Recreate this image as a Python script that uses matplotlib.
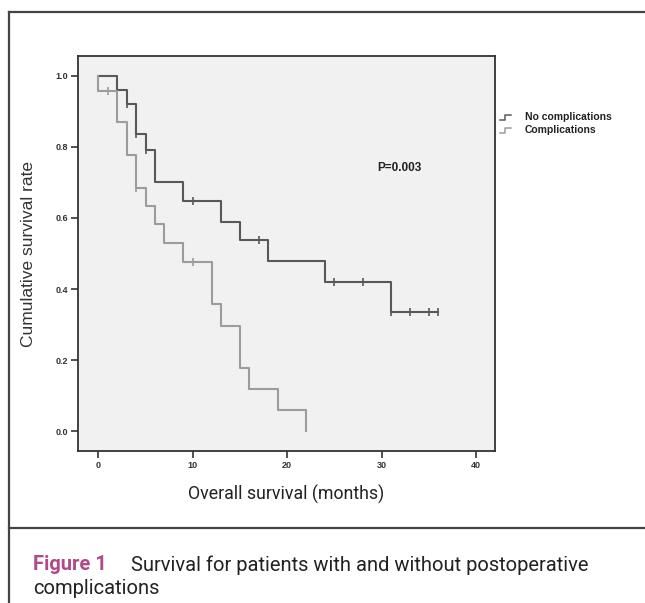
import numpy as np
import matplotlib
matplotlib.use("Agg")
from matplotlib import pyplot as plt
from matplotlib.lines import Line2D

# Kaplan-Meier steps
no_comp_times = [0, 2, 3, 4, 5, 6, 9, 13, 15, 18, 24, 31, 36]
no_comp_surv = [1.0, 0.96, 0.92, 0.836, 0.792, 0.70, 0.648, 0.59, 0.538, 0.48, 0.42, 0.336, 0.336]
no_comp_censored = [3, 4, 5, 10, 17, 25, 28, 31, 33, 35, 36]

comp_times = [0, 0, 2, 3, 4, 5, 6, 7, 9, 12, 13, 15, 16, 19, 22]
comp_surv = [1.0, 0.957, 0.869, 0.777, 0.684, 0.635, 0.582, 0.529, 0.477, 0.357, 0.297, 0.178, 0.118, 0.059, 0.0]
comp_censored = [1, 4, 10]

x_ticks = [0, 10, 20, 30, 40]
y_ticks = [0.0, 0.2, 0.4, 0.6, 0.8, 1.0]
p_value_text = "P=0.003"
legend_labels = ["No complications", "Complications"]

DARK = "#585858"
LIGHT = "#9c9c9c"
NARROW = "Roboto"


def level_at(times, surv, t):
    i = np.searchsorted(times, t, side="right") - 1
    return surv[i]


fig = plt.figure(figsize=(6.45, 6.03), dpi=100)
ax = fig.add_axes([0.1209, 0.2521, 0.6465, 0.655])
ax.set_facecolor("#f1f1f1")

for times, surv, cens, col in [(no_comp_times, no_comp_surv, no_comp_censored, DARK),
                                (comp_times, comp_surv, comp_censored, LIGHT)]:
    ax.step(times, surv, where="post", color=col, lw=1.5)
    ax.plot(cens, [level_at(times, surv, c) for c in cens], ls="none",
            marker="|", ms=6, mew=1.2, color=col)

ax.set_xlim(-2.15, 42.0)
ax.set_ylim(-0.056, 1.056)
ax.set_xticks(x_ticks)
ax.set_yticks(y_ticks)
ax.set_xticklabels([str(v) for v in x_ticks])
ax.set_yticklabels(["%.1f" % v for v in y_ticks])
ax.tick_params(direction="out", length=5, width=1.2, color="#333333", labelsize=6.5, pad=2)
for lab in ax.get_xticklabels() + ax.get_yticklabels():
    lab.set_fontweight("bold")
    lab.set_family("Liberation Sans")
    lab.set_color("#333333")
for sp in ax.spines.values():
    sp.set_color("#333333")
    sp.set_linewidth(1.3)

ax.set_xlabel("Overall survival (months)", fontsize=12.8, family=NARROW, color="#222222", labelpad=11)
ax.set_ylabel("Cumulative survival rate", fontsize=12.5, family="Liberation Sans", color="#333333", labelpad=14)

ax.text(29.5, 0.74, p_value_text, fontsize=8.5, fontweight="bold",
        family="Liberation Sans", color="#222222", va="center")

# legend drawn by hand (SPSS style step symbols)
for i, (lab, col) in enumerate(zip(legend_labels, [DARK, LIGHT])):
    yc = 1 - (117 + 13 * i) / 603
    x0 = 500 / 645
    xs = np.array([0, 5, 5, 11]) / 645 + x0
    ys = np.array([-2.5, -2.5, 2.5, 2.5]) / 603 + yc
    fig.add_artist(Line2D(xs, ys, color=col, lw=1.1))
    fig.text(525 / 645, yc, lab, fontsize=7.5, fontweight="bold", family="Liberation Sans",
             color="#222222", va="center")

# outer frame of the figure panel
frame_col = "#444444"
fig.add_artist(Line2D([9 / 645, 1.0], [1 - 12 / 603, 1 - 12 / 603], color=frame_col, lw=1.6))
fig.add_artist(Line2D([9 / 645, 9 / 645], [0.0, 1 - 12 / 603], color=frame_col, lw=1.6))
fig.add_artist(Line2D([9 / 645, 1.0], [1 - 528 / 603, 1 - 528 / 603], color=frame_col, lw=1.6))

# caption
cap_y1 = 1 - 565 / 603
fig.text(33 / 645, cap_y1, "Figure 1", fontsize=14.5, fontweight="bold", family=NARROW,
         color="#b04a8a", va="center")
fig.text(131 / 645, cap_y1, "Survival for patients with and without postoperative", fontsize=14.5,
         family=NARROW, color="#222222", va="center")
fig.text(33 / 645, 1 - 589 / 603, "complications", fontsize=14.5, family=NARROW,
         color="#222222", va="center")

fig.savefig("out.png", dpi=100, facecolor="white")
